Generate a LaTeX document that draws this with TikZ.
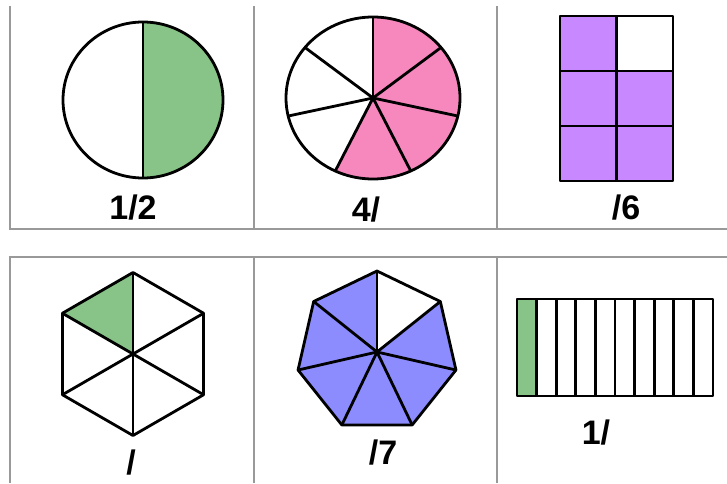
\documentclass[tikz,border=0pt]{standalone}
\usepackage{fontspec}
\setmainfont{Liberation Sans}
\usepackage{tikz}
\usetikzlibrary{calc}

\definecolor{fracgreen}{RGB}{136,196,136}
\definecolor{fracpink}{RGB}{247,136,190}
\definecolor{fracviolet}{RGB}{200,136,255}
\definecolor{fracblue}{RGB}{140,140,255}

\begin{document}
\begin{tikzpicture}[x=1pt, y=1pt,
    cell/.style={draw=black!40, line width=1.2pt},
    piece/.style={draw, line width=2.8pt, line join=round},
    lbl/.style={inner sep=0pt, font=\fontsize{34}{34}\selectfont\bfseries}]
    \useasboundingbox (0,0) rectangle (727,483);
    % table lines
    \draw[cell] (10,477) -- (10,254) -- (727,254);
    \draw[cell] (254,477) -- (254,254) (497,477) -- (497,254);
    \draw[cell] (10,0) -- (10,226) -- (727,226);
    \draw[cell] (254,0) -- (254,226) (497,0) -- (497,226);

    % halves
    \coordinate (c1) at (143,383);
    \fill[fracgreen] (c1) ++(0,78) arc[start angle=90, end angle=-90, x radius=80, y radius=78] -- cycle;
    \draw[piece] (c1) ellipse[x radius=80, y radius=78];
    \draw[piece] ($(c1)+(0,78)$) -- ($(c1)+(0,-78)$);
    \node[lbl] (half) at (133,275) {1/2};

    % sevenths of a circle
    \coordinate (c2) at (373,385);
    \fill[fracpink] (c2) -- ++(0,81) arc[start angle=90, end angle={90-4*360/7}, x radius=87, y radius=81] -- cycle;
    \draw[piece] (c2) ellipse[x radius=87, y radius=81];
    \foreach \k in {0,...,6}
        \draw[piece] (c2) -- +({87*cos(90-\k*360/7)},{81*sin(90-\k*360/7)});
    \node[lbl] (fourth) at (366,273) {4/};

    % sixths of a rectangle
    \fill[fracviolet] (560,302) rectangle (673,412) (560,412) rectangle (616.5,467);
    \foreach \y in {357,412}
        \draw[piece] (560,\y) -- (673,\y);
    \draw[piece] (616.5,302) -- (616.5,467);
    \draw[piece] (560,302) rectangle (673,467);
    \node[lbl] (sixth) at (626,275) {/6};

    % sixths of a hexagon
    \coordinate (c3) at (133,129);
    \fill[fracgreen] (c3) -- +(90:81.5) -- +(150:81.5) -- cycle;
    \draw[piece] (c3) +(90:81.5) \foreach \a in {30,-30,...,-210} { -- +(\a:81.5) } -- cycle;
    \foreach \a in {90,30,...,-210}
        \draw[piece] (c3) -- +(\a:81.5);
    \node[lbl] (hexa) at (131,20) {/};

    % sevenths of a heptagon
    \coordinate (c4) at (377,131);
    \fill[fracblue] (c4) +({90-360/7}:81) \foreach \k in {2,...,7} { -- +({90-\k*360/7}:81) } -- (c4) -- cycle;
    \draw[piece] (c4) +(90:81) \foreach \k in {1,...,6} { -- +({90-\k*360/7}:81) } -- cycle;
    \foreach \k in {0,...,6}
        \draw[piece] (c4) -- +({90-\k*360/7}:81);
    \node[lbl] (hepta) at (383,30) {/7};

    % tenths of a bar
    \fill[fracgreen] (517,87) rectangle (536.6,184);
    \foreach \k in {1,...,9}
        \draw[piece] ({517+\k*19.6},87) -- ({517+\k*19.6},184);
    \draw[piece] (517,87) rectangle (713,184);
    \node[lbl] (tenth) at (596,50) {1/};
\end{tikzpicture}
\end{document}
